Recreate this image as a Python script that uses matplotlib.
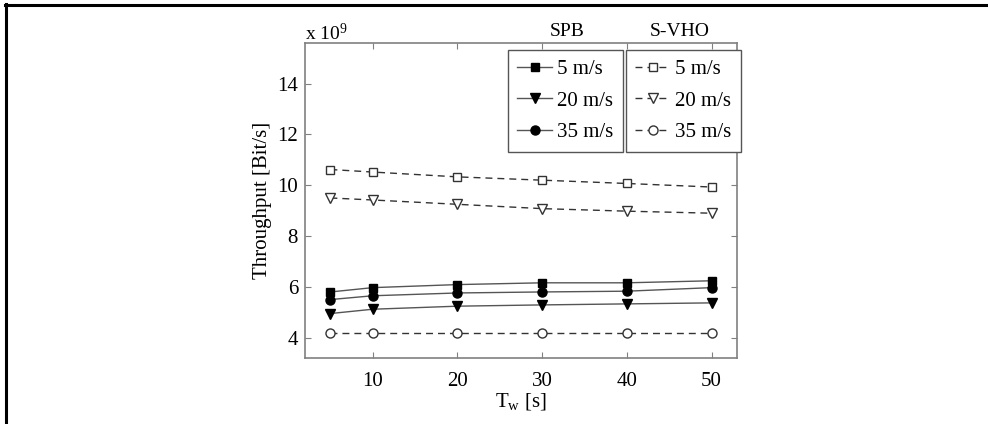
import matplotlib
matplotlib.use("Agg")
import matplotlib.pyplot as plt
from matplotlib.lines import Line2D

plt.rcParams['font.family'] = ['Liberation Serif', 'DejaVu Serif']
plt.rcParams['mathtext.fontset'] = 'custom'
plt.rcParams['mathtext.rm'] = 'Liberation Serif'
plt.rcParams['mathtext.it'] = 'Liberation Serif:italic'

# Data (throughput in units of 1e9 bit/s)
tw = [5, 10, 20, 30, 40, 50]
speeds = ['5 m/s', '20 m/s', '35 m/s']
spb_5 = [5.80, 5.97, 6.09, 6.16, 6.16, 6.24]
spb_20 = [4.95, 5.12, 5.24, 5.29, 5.33, 5.37]
spb_35 = [5.50, 5.65, 5.76, 5.80, 5.83, 5.97]
svho_5 = [10.62, 10.52, 10.33, 10.20, 10.07, 9.93]
svho_20 = [9.50, 9.42, 9.25, 9.08, 8.98, 8.90]
svho_35 = [4.20, 4.20, 4.20, 4.20, 4.20, 4.20]
xticks = [10, 20, 30, 40, 50]
yticks = [4, 6, 8, 10, 12, 14]

W, H = 988, 424
fig = plt.figure(figsize=(W / 100, H / 100), dpi=100)

def px(x, y):
    return (x / W, 1 - y / H)

ax_l, ax_r, ax_t, ax_b = 305, 737, 43, 358
ax = fig.add_axes([ax_l / W, 1 - ax_b / H, (ax_r - ax_l) / W, (ax_b - ax_t) / H])

gray = '#808080'
linec = '#555555'
spb_markers = ['s', 'v', 'o']
svho_markers = ['s', 'v', 'o']
msz = {'s': 6.0, 'v': 6.5, 'o': 6.5}

spb_handles = []
for vals, m in zip([spb_5, spb_20, spb_35], spb_markers):
    h, = ax.plot(tw, vals, '-', color=linec, lw=1.0, marker=m, ms=msz[m],
                 mfc='black', mec='black', zorder=3)
    spb_handles.append(h)

svho_handles = []
for vals, m in zip([svho_5, svho_20, svho_35], svho_markers):
    h, = ax.plot(tw, vals, '--', color='#333333', lw=1.0, dashes=(5, 3.6), marker=m,
                 ms=msz[m], mfc='white', mec='#333333', mew=1.0, zorder=3)
    svho_handles.append(h)

ax.set_xlim(2, 53)
ax.set_ylim(3.2, 15.6)
ax.set_xticks(xticks)
ax.set_yticks(yticks)
ax.tick_params(direction='in', length=4, width=0.8, color=gray, labelsize=15,
               top=True, right=True)
ax.tick_params(axis='x', pad=10)
ax.tick_params(axis='y', pad=5)
for s in ax.spines.values():
    s.set_color(gray)
    s.set_linewidth(1.2)

ax.set_xlabel('T$_{\\mathrm{w}}$ [s]', fontsize=15, labelpad=0)
ax.set_ylabel('Throughput [Bit/s]', fontsize=15, labelpad=4)

fig.text(*px(305, 33), 'x 10$^{9}$', fontsize=14, ha='left', va='center')
fig.text(*px(567, 32), 'SPB', fontsize=14, ha='center', va='center')
fig.text(*px(680, 32), 'S-VHO', fontsize=14, ha='center', va='center')

leg_kw = dict(fontsize=15, frameon=True, fancybox=False, framealpha=1,
              edgecolor=linec, handlelength=1.65, handletextpad=0.25,
              labelspacing=0.58, borderpad=0.45, borderaxespad=0,
              loc='upper left')
leg1 = fig.legend(spb_handles, speeds, bbox_to_anchor=px(508, 50), **leg_kw)
leg1.get_frame().set_linewidth(1.0)
leg2 = fig.legend(svho_handles, speeds, bbox_to_anchor=px(626, 50), **leg_kw)
leg2.get_frame().set_linewidth(1.0)

# outer border lines (top and left)
fig.add_artist(Line2D([px(5, 5)[0], 1.0], [px(5, 5)[1]] * 2, color='black', lw=2.2,
                      transform=fig.transFigure))
fig.add_artist(Line2D([px(6, 4)[0]] * 2, [px(6, 4)[1], 0.0], color='black', lw=2.2,
                      transform=fig.transFigure))

fig.savefig('out.png', dpi=100)
